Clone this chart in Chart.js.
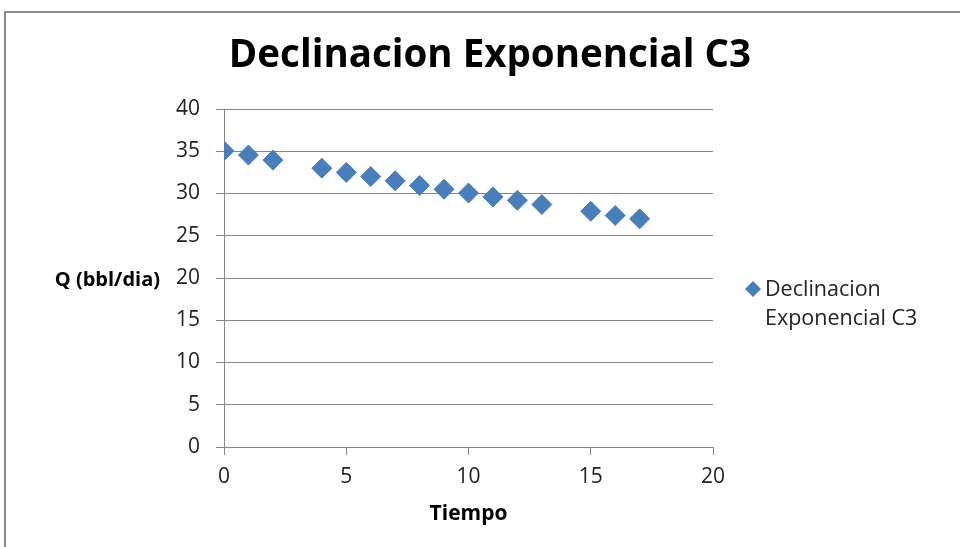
<!DOCTYPE html>
<html>
<head>
<meta charset="utf-8">
<script src="https://cdn.jsdelivr.net/npm/chart.js@4.4.1/dist/chart.umd.min.js"></script>
<style>
  html, body { margin: 0; padding: 0; background: #fff; }
  #wrap { width: 960px; height: 547px; }
</style>
</head>
<body>
<div id="wrap"><canvas id="chart" width="960" height="547"></canvas></div>
<script>
// Caudal medido contra tiempo
const tiempo = [0, 1, 2, 4, 5, 6, 7, 8, 9, 10, 11, 12, 13, 15, 16, 17];
const caudal = [35.05, 34.55, 33.95, 33.0, 32.5, 32.0, 31.5, 30.95, 30.5, 30.05, 29.6, 29.2, 28.7, 27.9, 27.4, 27.0];
const serieNombre = 'Declinacion Exponencial C3';
const leyendaLineas = ['Declinacion', 'Exponencial C3'];
const tituloGrafico = 'Declinacion Exponencial C3';
const tituloX = 'Tiempo';
const tituloY = 'Q (bbl/dia)';

const FONT = "'Open Sans', sans-serif";
const AZUL = '#4a7ebb';
const GRIS = '#868686';

// marco, titulo, titulo Y horizontal y leyenda de dos lineas
const extras = {
  id: 'extras',
  beforeDraw(chart) {
    const ctx = chart.ctx;
    ctx.save();
    ctx.fillStyle = '#fff';
    ctx.fillRect(0, 0, chart.width, chart.height);
    ctx.strokeStyle = '#8c8c8c';
    ctx.lineWidth = 2;
    ctx.strokeRect(5, 12, chart.width + 20, chart.height + 20);
    ctx.restore();
  },
  afterDraw(chart) {
    const ctx = chart.ctx;
    const area = chart.chartArea;
    ctx.save();
    ctx.fillStyle = '#000';
    ctx.textBaseline = 'middle';

    ctx.font = "bold 38.5px " + FONT;
    ctx.textAlign = 'center';
    ctx.fillText(tituloGrafico, 490, 56);

    ctx.font = "bold 20px " + FONT;
    ctx.textAlign = 'right';
    ctx.fillText(tituloY, 160, 280);

    ctx.fillStyle = AZUL;
    const mx = area.right + 40, my = 289, r = 8;
    ctx.beginPath();
    ctx.moveTo(mx, my - r);
    ctx.lineTo(mx + r, my);
    ctx.lineTo(mx, my + r);
    ctx.lineTo(mx - r, my);
    ctx.closePath();
    ctx.fill();

    ctx.fillStyle = '#222';
    ctx.font = "21.5px " + FONT;
    ctx.textAlign = 'left';
    leyendaLineas.forEach((t, i) => ctx.fillText(t, area.right + 52, 290 + i * 29));
    ctx.restore();
  }
};

new Chart(document.querySelector('#chart').getContext('2d'), {
  type: 'scatter',
  data: {
    datasets: [{
      label: serieNombre,
      data: tiempo.map((t, i) => ({ x: t, y: caudal[i] })),
      pointStyle: 'rectRot',
      pointRadius: 10,
      pointHoverRadius: 10,
      backgroundColor: AZUL,
      borderColor: AZUL,
      borderWidth: 1,
      showLine: false
    }]
  },
  options: {
    responsive: false,
    animation: false,
    devicePixelRatio: 1,
    layout: { padding: { top: 109, right: 247, bottom: 0, left: 0 } },
    plugins: {
      legend: { display: false },
      title: { display: false },
      tooltip: { enabled: false }
    },
    scales: {
      x: {
        type: 'linear',
        min: 0,
        max: 20,
        ticks: { stepSize: 5, padding: 9, color: '#222', font: { family: FONT, size: 21 } },
        grid: { drawOnChartArea: false, tickLength: 8, color: GRIS },
        border: { color: GRIS },
        title: { display: true, text: tituloX, color: '#000', font: { family: FONT, size: 21, weight: 'bold' }, padding: { top: 0, bottom: 20 } },
        afterFit(scale) { scale.height = 100; }
      },
      y: {
        min: 0,
        max: 40,
        ticks: { stepSize: 5, padding: 16, color: '#222', font: { family: FONT, size: 21 } },
        grid: { tickLength: 8, color: GRIS },
        border: { color: GRIS },
        afterFit(scale) { scale.width = 224; }
      }
    }
  },
  plugins: [extras]
});
</script>
</body>
</html>
